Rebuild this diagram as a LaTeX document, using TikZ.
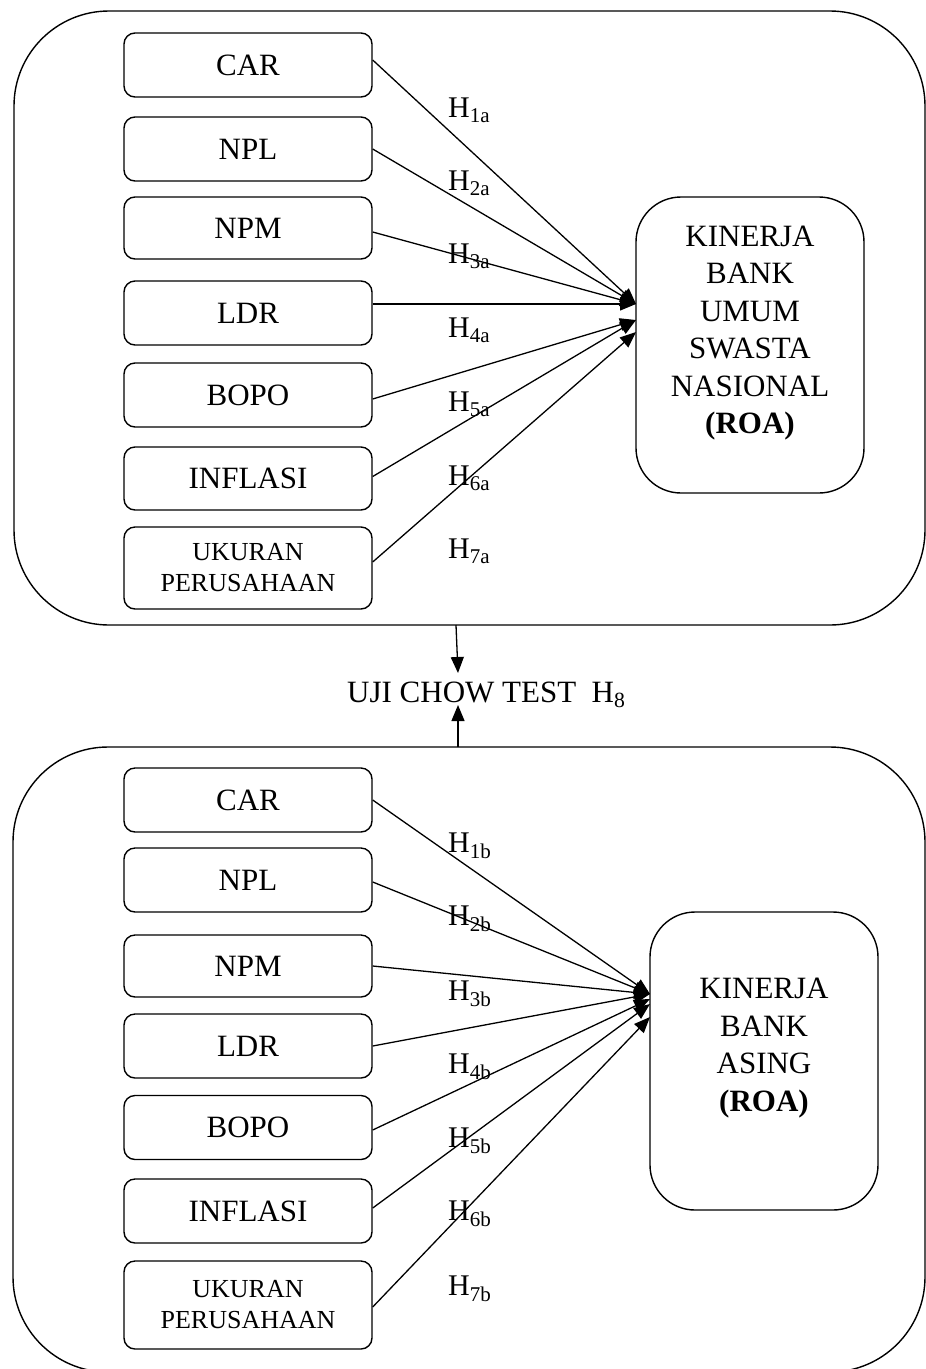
\documentclass[tikz,border=0pt]{standalone}
\usepackage{fontspec}
\setmainfont{Liberation Serif}
\usetikzlibrary{arrows.meta}
\begin{document}
\begin{tikzpicture}[x=1pt,y=-1pt,
  container/.style={draw, line width=1.4pt, rounded corners=95pt, inner sep=0pt},
  var/.style={draw, line width=1.4pt, rounded corners=11pt, minimum width=248pt, inner sep=0pt, align=center, font=\fontsize{31}{37}\selectfont},
  small/.style={font=\fontsize{26}{31}\selectfont},
  target/.style={draw, line width=1.4pt, rounded corners=45pt, minimum width=228pt, inner sep=0pt},
  ttext/.style={align=center, inner sep=0pt, font=\fontsize{31}{37.5}\selectfont},
  hl/.style={anchor=base west, inner sep=0pt, font=\fontsize{30}{36}\selectfont},
  arr/.style={line width=1.3pt, -{Triangle[length=16pt,width=13pt]}}
]
\useasboundingbox (0,0) rectangle (926,1369);

% group containers
\node[container, minimum width=911pt, minimum height=614pt] (grpA) at (469.5,318) {};
\node[container, minimum width=912pt, minimum height=625pt] (grpB) at (469,1059.5) {};

% ---------- top group ----------
\node[var, minimum height=64pt] (carA) at (248,65) {CAR};
\node[var, minimum height=64pt] (nplA) at (248,149) {NPL};
\node[var, minimum height=62pt] (npmA) at (248,228) {NPM};
\node[var, minimum height=64pt] (ldrA) at (248,313) {LDR};
\node[var, minimum height=64pt] (bopoA) at (248,395) {BOPO};
\node[var, minimum height=63pt] (infA) at (248,478.5) {INFLASI};
\node[var, small, minimum height=82pt] (ukA) at (248,568) {UKURAN\\PERUSAHAAN};

\node[target, minimum height=296pt] (kinA) at (750,345) {};
\node[ttext] (kinAt) at (750,333) {KINERJA\\BANK\\UMUM\\SWASTA\\NASIONAL\\\textbf{(ROA)}};

\coordinate (ta1) at (636,304);
\coordinate (ta2) at (636,320);
\coordinate (ta3) at (636,332);

\draw[arr] ([yshift=5pt]carA.east) -- (ta1);
\draw[arr] (nplA.east) -- (ta1);
\draw[arr] ([yshift=-4pt]npmA.east) -- (ta1);
\draw[arr] (ldrA.east |- ta1) -- (ta1);
\draw[arr] ([yshift=-4pt]bopoA.east) -- (ta2);
\draw[arr] ([yshift=2pt]infA.east) -- (ta2);
\draw[arr] ([yshift=6pt]ukA.east) -- (ta3);

\node[hl] (h1a) at (448,117) {H\textsubscript{1a}};
\node[hl] (h2a) at (448,190) {H\textsubscript{2a}};
\node[hl] (h3a) at (448,263) {H\textsubscript{3a}};
\node[hl] (h4a) at (448,337) {H\textsubscript{4a}};
\node[hl] (h5a) at (448,411) {H\textsubscript{5a}};
\node[hl] (h6a) at (448,485) {H\textsubscript{6a}};
\node[hl] (h7a) at (448,558) {H\textsubscript{7a}};

% ---------- chow test ----------
\node[anchor=base west, inner sep=0pt, font=\fontsize{31}{37}\selectfont] (chow) at (347,702) {UJI CHOW TEST\ \ H\textsubscript{8}};
\coordinate (s1) at (456,625);
\coordinate (t1) at (458,673);
\coordinate (s2) at (458,747);
\coordinate (t2) at (458,705);
\draw[arr] (s1) -- (t1);
\draw[arr] (s2) -- (t2);

% ---------- bottom group ----------
\node[var, minimum height=64pt] (carB) at (248,800) {CAR};
\node[var, minimum height=64pt] (nplB) at (248,880) {NPL};
\node[var, minimum height=62pt] (npmB) at (248,966) {NPM};
\node[var, minimum height=64pt] (ldrB) at (248,1046) {LDR};
\node[var, minimum height=64pt] (bopoB) at (248,1127.5) {BOPO};
\node[var, minimum height=64pt] (infB) at (248,1211) {INFLASI};
\node[var, small, minimum height=88pt] (ukB) at (248,1305) {UKURAN\\PERUSAHAAN};

\node[target, minimum height=298pt] (kinB) at (764,1061) {};
\node[ttext] (kinBt) at (764,1048) {KINERJA\\BANK\\ASING\\\textbf{(ROA)}};

\coordinate (tb1) at (650,994);
\coordinate (tb2) at (650,999);
\coordinate (tb3) at (650,1004);
\coordinate (tb4) at (650,1017);

\draw[arr] (carB.east) -- (tb1);
\draw[arr] ([yshift=-2pt]nplB.east) -- (tb1);
\draw[arr] (npmB.east) -- (tb1);
\draw[arr] (ldrB.east) -- (tb1);
\draw[arr] ([yshift=-2.5pt]bopoB.east) -- (tb2);
\draw[arr] ([yshift=3pt]infB.east) -- (tb3);
\draw[arr] ([yshift=-2pt]ukB.east) -- (tb4);

\node[hl] (h1b) at (448,852) {H\textsubscript{1b}};
\node[hl] (h2b) at (448,925) {H\textsubscript{2b}};
\node[hl] (h3b) at (448,1000) {H\textsubscript{3b}};
\node[hl] (h4b) at (448,1073) {H\textsubscript{4b}};
\node[hl] (h5b) at (448,1147) {H\textsubscript{5b}};
\node[hl] (h6b) at (448,1220) {H\textsubscript{6b}};
\node[hl] (h7b) at (448,1295) {H\textsubscript{7b}};
\end{tikzpicture}
\end{document}
